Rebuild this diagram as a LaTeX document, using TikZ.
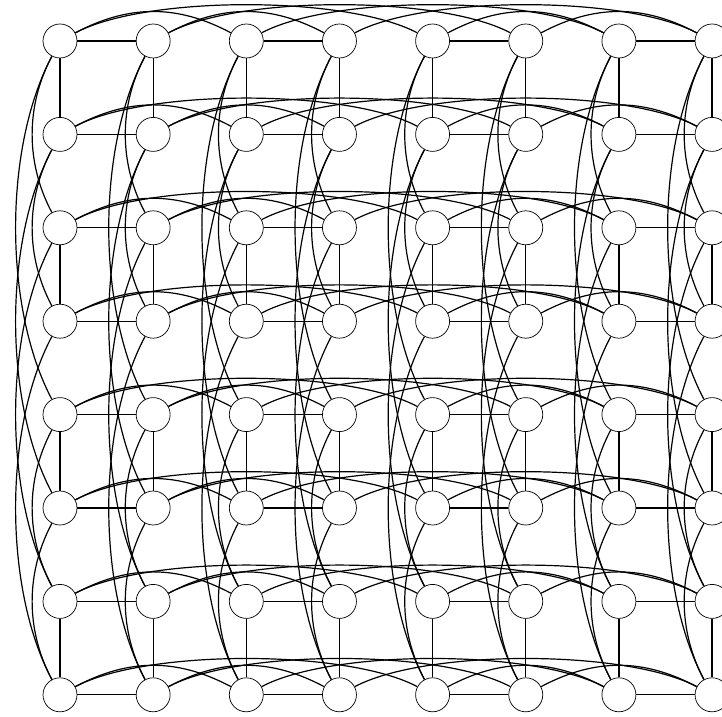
\documentclass[tikz,border=0pt]{standalone}
\usetikzlibrary{backgrounds}
\tikzset{
  vtx/.style={circle,draw,line width=0.7pt,fill=white,minimum size=34pt,inner sep=0pt},
  edge/.style={line width=1.2pt},
  hA/.style={edge,bend left=28,looseness=1.0},
  hB/.style={edge,bend left=28,looseness=0.6},
  vA/.style={edge,bend left=28,looseness=0.92},
  vB/.style={edge,bend left=28,looseness=0.77}
}
\begin{document}
\begin{tikzpicture}[x=1pt,y=1pt]
\useasboundingbox (0,0) rectangle (722,716);
\clip (0,0) rectangle (722,716);
\foreach \i in {0,...,7}{
  \foreach \j in {0,...,7}{
    \node[vtx] (n-\i-\j) at ({60+93.15*\i},{716-41-93.4*\j}) {};
  }
}
\begin{pgfonlayer}{background}
\foreach \a/\b in {0/1,2/3,4/5,6/7}{
  \foreach \k in {0,...,7}{
    \draw[edge] (n-\a-\k) -- (n-\b-\k);
    \draw[edge] (n-\k-\b) -- (n-\k-\a);
  }
}
\foreach \a/\b in {0/2,1/3,4/6,5/7}{
  \foreach \k in {0,...,7}{
    \draw[hA] (n-\a-\k) to (n-\b-\k);
    \draw[vA] (n-\k-\b) to (n-\k-\a);
  }
}
\foreach \a/\b in {0/4,1/5,2/6,3/7}{
  \foreach \k in {0,...,7}{
    \draw[hB] (n-\a-\k) to (n-\b-\k);
    \draw[vB] (n-\k-\b) to (n-\k-\a);
  }
}
\end{pgfonlayer}
\end{tikzpicture}
\end{document}
